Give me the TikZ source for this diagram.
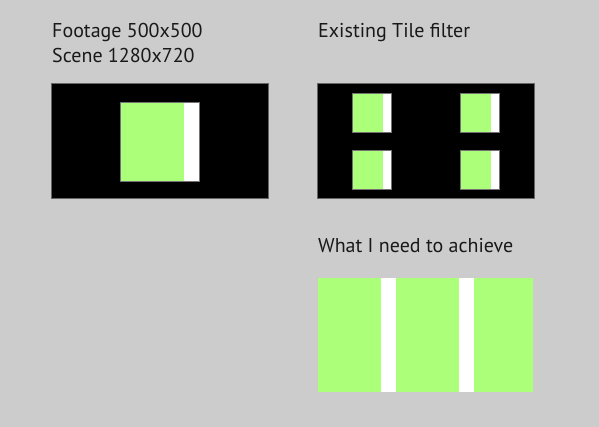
\documentclass[tikz,border=0pt]{standalone}
\usepackage{fontspec}
\setmainfont{PT Sans}
\definecolor{sheetgray}{RGB}{204,204,204}
\definecolor{footgreen}{RGB}{172,255,120}
\begin{document}
\begin{tikzpicture}[x=1pt, y=-1pt,
    caption/.style={anchor=base west, inner sep=0pt, font=\fontsize{20}{25}\selectfont, text=black!90},
    frame/.style={fill=black, draw=black!60, line width=0.5pt},
    edge/.style={draw=black!55, line width=0.4pt}]
            % Define parameters
            \def\w{15}    % Width of white strip
            \def\tw{31}   % Width of green part of a tile
            \def\th{39}   % Height of a tile

            % Background
            \fill[sheetgray] (0,0) rectangle (599,427);
            \useasboundingbox (0,0) rectangle (599,427);

            % Captions
            \node[caption] (footage) at (52,38) {Footage 500x500};
            \node[caption] (scene) at (52,63) {Scene 1280x720};
            \node[caption] (tile) at (318,38) {Existing Tile filter};
            \node[caption] (need) at (318,253) {What I need to achieve};

            % Draw the scene with the footage
            \draw[frame] (51,83) rectangle (268,198);
            \fill[footgreen] (120,102) rectangle (184,181);
            \fill[white] (184,102) rectangle (184+\w,181);
            \draw[edge] (120,102) rectangle (184+\w,181);

            % Draw the tiled result
            \draw[frame] (317,83) rectangle (534,198);
            \fill[footgreen] (352,93) rectangle (352+\tw,93+\th);
            \fill[white] (352+\tw,93) rectangle (352+\tw+8,93+\th);
            \draw[edge] (352,93) rectangle (352+\tw+8,93+\th);
            \fill[footgreen] (460,93) rectangle (460+\tw,93+\th);
            \fill[white] (460+\tw,93) rectangle (460+\tw+8,93+\th);
            \draw[edge] (460,93) rectangle (460+\tw+8,93+\th);
            \fill[footgreen] (352,150) rectangle (352+\tw,150+\th);
            \fill[white] (352+\tw,150) rectangle (352+\tw+8,150+\th);
            \draw[edge] (352,150) rectangle (352+\tw+8,150+\th);
            \fill[footgreen] (460,150) rectangle (460+\tw,150+\th);
            \fill[white] (460+\tw,150) rectangle (460+\tw+8,150+\th);
            \draw[edge] (460,150) rectangle (460+\tw+8,150+\th);

            % Draw the wanted result
            \fill[footgreen] (318,278) rectangle (533,392);
            \fill[white] (381,278) rectangle (381+\w,392);
            \fill[white] (459,278) rectangle (459+\w,392);

\end{tikzpicture}
\end{document}
